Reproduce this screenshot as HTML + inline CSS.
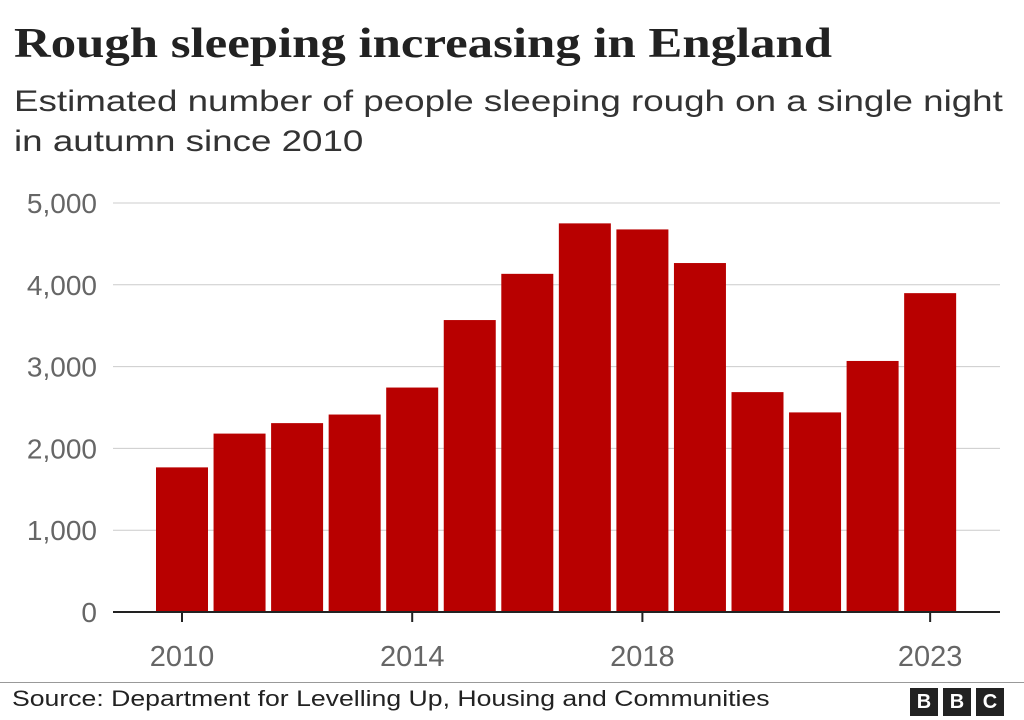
<!DOCTYPE html>
<html><head><meta charset="utf-8"><style>
body{margin:0;width:1024px;height:720px;background:#fff;font-family:"Liberation Sans",sans-serif;overflow:hidden;position:relative}
.t{position:absolute;left:14px;top:20px;font-family:"Liberation Serif",serif;font-weight:bold;font-size:42px;color:#222;transform:scaleX(1.21);transform-origin:0 0;white-space:nowrap}
.s{position:absolute;left:14px;top:82px;font-size:30px;line-height:40px;color:#333;transform:scaleX(1.225);transform-origin:0 0;white-space:nowrap}
.src{position:absolute;left:12px;top:686px;font-size:22px;color:#222;transform:scaleX(1.21);transform-origin:0 0;white-space:nowrap}
.line{position:absolute;left:0;top:682px;width:1024px;height:1px;background:#999}
.bbc{position:absolute;top:688px;width:28px;height:28px;background:#222;color:#fff;font-weight:bold;font-size:20px;text-align:center;line-height:28px}
</style></head><body>
<div class="t">Rough sleeping increasing in England</div>
<div class="s">Estimated number of people sleeping rough on a single night<br>in autumn since 2010</div>
<svg id="c" width="1024" height="720" style="position:absolute;left:0;top:0"></svg>
<div class="line"></div>
<div class="src">Source: Department for Levelling Up, Housing and Communities</div>
<div class="bbc" style="left:910px">B</div>
<div class="bbc" style="left:943px">B</div>
<div class="bbc" style="left:976px">C</div>
<script>
const years=[2010,2011,2012,2013,2014,2015,2016,2017,2018,2019,2020,2021,2022,2023];
const values=[1768,2181,2309,2414,2744,3569,4134,4751,4677,4266,2688,2440,3069,3898];
const yTicks=[0,1000,2000,3000,4000,5000];
const yTickLabels=["0","1,000","2,000","3,000","4,000","5,000"];
const xTickYears=[2010,2014,2018,2023];
const svg=document.getElementById('c');const NS='http://www.w3.org/2000/svg';
const x0=113,x1=1000,y0=612,y5=203;
const y=v=>y0-(y0-y5)*v/5000;
const step=57.55,first=182;
const x=yr=>first+(yr-2010)*step;
function mk(t,a){const e=document.createElementNS(NS,t);for(const k in a)e.setAttribute(k,a[k]);svg.appendChild(e);return e;}
yTicks.forEach((v,i)=>{
 if(v>0){const g=mk('line',{x1:x0,x2:x1,y1:y(v),y2:y(v),stroke:'#ccc','stroke-width':1});
 
 }
 const t=mk('text',{x:97,y:y(v)+10,'text-anchor':'end','font-size':28,fill:'#666','font-family':'Liberation Sans, sans-serif'});
 t.textContent=yTickLabels[i];
 
 
});
years.forEach((yr,i)=>{
 const b=mk('rect',{x:x(yr)-26,y:y(values[i]),width:52,height:y0-y(values[i]),fill:'#b80000'});
 
 
});
const ax=mk('line',{x1:x0,x2:x1,y1:y0,y2:y0,stroke:'#222','stroke-width':2});


xTickYears.forEach(yr=>{
 const tk=mk('line',{x1:x(yr),x2:x(yr),y1:y0,y2:y0+10,stroke:'#222','stroke-width':2});
 
 
 const t=mk('text',{x:x(yr),y:666,'text-anchor':'middle','font-size':29,fill:'#666','font-family':'Liberation Sans, sans-serif'});
 t.textContent=yr;
 
 
});
</script>
</body></html>
